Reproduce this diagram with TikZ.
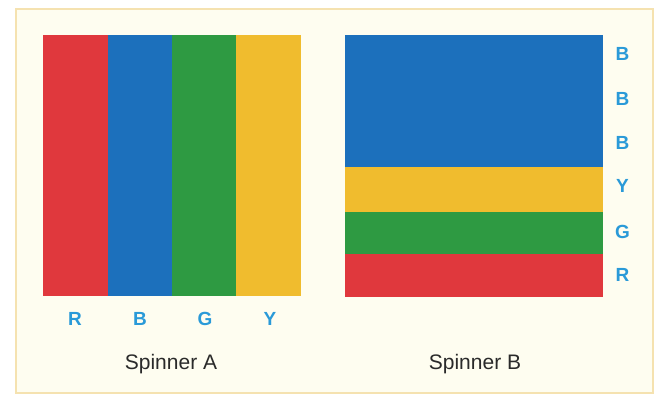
\documentclass[tikz,border=0pt]{standalone}
\usepackage{fontspec}
\setmainfont{Liberation Sans}
\definecolor{sred}{HTML}{E0383D}
\definecolor{sblue}{HTML}{1C70BC}
\definecolor{sgreen}{HTML}{2E9A42}
\definecolor{syellow}{HTML}{F0BC2E}
\definecolor{lbl}{HTML}{2A9AD8}
\definecolor{cream}{HTML}{FEFDF0}
\definecolor{edge}{HTML}{F5E2B0}
\definecolor{txt}{HTML}{2A2A2A}
\tikzset{
  lab/.style={text=lbl, font=\fontsize{19}{19}\selectfont\bfseries, inner sep=0pt},
  captxt/.style={text=txt, font=\fontsize{21}{21}\selectfont, inner sep=0pt},
}
\begin{document}
\begin{tikzpicture}[x=1pt,y=-1pt]
\useasboundingbox (0,0) rectangle (659,397);
\fill[white] (0,0) rectangle (659,397);
\node[draw=edge, line width=2pt, fill=cream, inner sep=0pt, minimum width=637pt, minimum height=384pt, anchor=north west] (panel) at (15,8) {};
% Spinner A
\fill[sred] (43,35) rectangle (107.5,296);
\fill[sblue] (107.5,35) rectangle (172,296);
\fill[sgreen] (172,35) rectangle (236,296);
\fill[syellow] (236,35) rectangle (301,296);
\node[lab] (aR) at (75,319) {R};
\node[lab] (aB) at (140,319) {B};
\node[lab] (aG) at (205,319) {G};
\node[lab] (aY) at (270,319) {Y};
\node[captxt] (capA) at (171,364) {Spinner A};
% Spinner B
\fill[sblue] (345,35) rectangle (603,167);
\fill[syellow] (345,167) rectangle (603,212);
\fill[sgreen] (345,212) rectangle (603,254);
\fill[sred] (345,254) rectangle (603,297);
\node[lab] (b1) at (622.5,54) {B};
\node[lab] (b2) at (622.5,99) {B};
\node[lab] (b3) at (622.5,143) {B};
\node[lab] (bY) at (622.5,186) {Y};
\node[lab] (bG) at (622.5,232) {G};
\node[lab] (bR) at (622.5,275) {R};
\node[captxt] (capB) at (475,364) {Spinner B};
\end{tikzpicture}
\end{document}
